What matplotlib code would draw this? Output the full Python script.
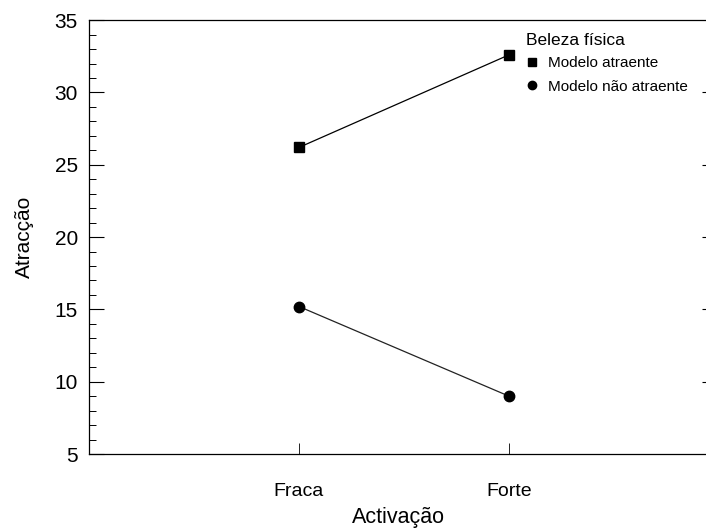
import matplotlib
matplotlib.use('Agg')
import matplotlib.pyplot as plt
from matplotlib.lines import Line2D
from matplotlib.ticker import MultipleLocator

## Dados ##
activacao = ['Fraca', 'Forte']
atraente = [26.2, 32.6]
nao_atraente = [15.2, 9.0]
series_nomes = ['Modelo atraente', 'Modelo não atraente']

plt.rcParams['font.family'] = ['Liberation Sans', 'DejaVu Sans']

fig = plt.figure(figsize=(7.06, 5.31), dpi=100)
ax = fig.add_axes([0.126, 0.145, 0.8775, 0.817])

x = [1, 2]
ax.plot(x, atraente, color='black', lw=0.9, marker='s', ms=7.5, mfc='black', mec='black')
ax.plot(x, nao_atraente, color='#222222', lw=0.9, marker='o', ms=7.5, mfc='black', mec='black')

ax.set_xlim(0, 2.95)
ax.set_ylim(5, 35)
ax.set_xticks(x)
ax.set_xticklabels(activacao)
ax.yaxis.set_major_locator(MultipleLocator(5))
ax.yaxis.set_minor_locator(MultipleLocator(1))

ax.tick_params(axis='y', which='major', direction='in', length=11, width=0.8,
               labelsize=15, pad=8)
ax.tick_params(axis='y', which='minor', direction='in', length=5, width=0.7)
ax.tick_params(axis='x', which='major', direction='in', length=8, width=0.6,
               labelsize=14, pad=21)

ax.set_xlabel('Activação', fontsize=15.5, labelpad=5)
ax.set_ylabel('Atracção', fontsize=15, labelpad=15)

for s in ax.spines.values():
    s.set_linewidth(0.9)

## ticks curtos do lado direito ##
ax2 = ax.twinx()
ax2.set_ylim(ax.get_ylim())
ax2.set_yticks([10, 15, 20, 25, 30])
ax2.tick_params(axis='y', direction='in', length=4, width=0.8, labelright=False)
for s in ax2.spines.values():
    s.set_visible(False)

## Legenda ##
handles = [Line2D([], [], ls='none', marker='s', ms=6, color='black'),
           Line2D([], [], ls='none', marker='o', ms=6, color='black')]
leg = ax.legend(handles, series_nomes, title='Beleza física', loc='upper left',
                bbox_to_anchor=(0.696, 0.985), frameon=False, fontsize=11,
                title_fontsize=12.5, handlelength=0.8, handletextpad=0.6,
                labelspacing=0.62, alignment='left', borderaxespad=0)
leg._legend_box.sep = 6

fig.savefig('out.png', dpi=100)
